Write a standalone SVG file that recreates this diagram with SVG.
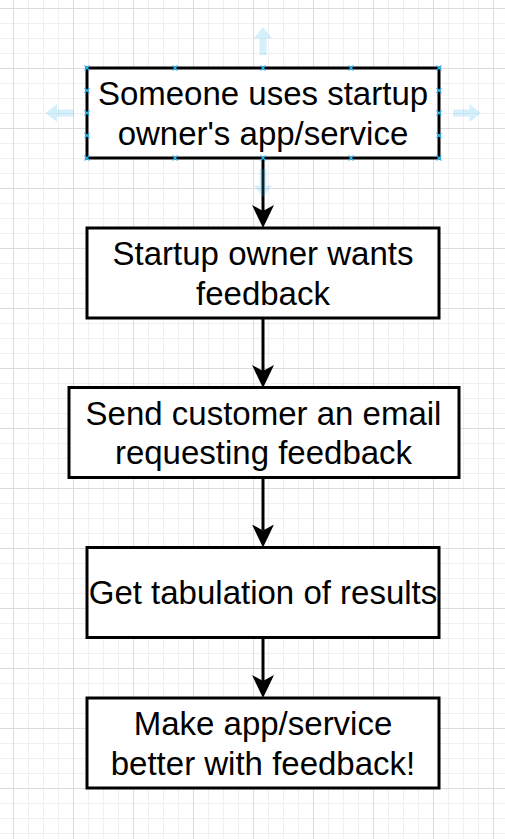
<svg xmlns="http://www.w3.org/2000/svg" width="505" height="839" viewBox="0 0 505 839">
  <defs>
    <pattern id="grid" x="13" y="8" width="60" height="60" patternUnits="userSpaceOnUse">
      <path d="M15.5,0V60M30.5,0V60M45.5,0V60M0,15.5H60M0,30.5H60M0,45.5H60" stroke="#f0f0f0" stroke-width="1" fill="none"/>
      <path d="M0.5,0V60M0,0.5H60" stroke="#dcdcdc" stroke-width="1" fill="none"/>
    </pattern>
    <marker id="arrow" markerUnits="userSpaceOnUse" markerWidth="24" markerHeight="24" refX="6" refY="12" orient="auto" viewBox="0 0 24 24">
      <path d="M23,12 L0,1 L6,12 L0,23 Z" fill="#000"/>
    </marker>
    <path id="hover" d="M0,0 L9,11.5 L3.5,11.5 L3.5,28 L-3.5,28 L-3.5,11.5 L-9,11.5 Z"/>
    <path id="hx" d="M-2.5,-2.5L2.5,2.5M-2.5,2.5L2.5,-2.5"/>
  </defs>
  <style>
    .box { fill: #ffffff; stroke: #000000; stroke-width: 3; }
    .lbl { font-family: "Liberation Sans", Arial, sans-serif; font-size: 33px; fill: #000000; text-anchor: middle; }
    .conn { stroke: #000000; stroke-width: 3; fill: none; marker-end: url(#arrow); }
    .hover { fill: #29b6f2; fill-opacity: 0.2; }
    .handle { stroke: #29b6f2; stroke-width: 1.2; fill: none; }
  </style>
  <rect x="0" y="0" width="505" height="839" fill="#ffffff"/>
  <rect x="0" y="0" width="505" height="839" fill="url(#grid)"/>

  <g id="connectors">
    <path class="conn" d="M263,158 V211"/>
    <path class="conn" d="M263,318 V371"/>
    <path class="conn" d="M263,477.5 V530.5"/>
    <path class="conn" d="M263,637.5 V681"/>
  </g>

  <g id="node1">
    <rect class="box" x="87" y="68" width="352" height="90"/>
    <text class="lbl" x="263" y="105">Someone uses startup</text>
    <text class="lbl" x="263" y="144.5">owner's app/service</text>
  </g>
  <g id="node2">
    <rect class="box" x="87" y="228" width="352" height="90"/>
    <text class="lbl" x="263" y="265">Startup owner wants</text>
    <text class="lbl" x="263" y="304.5">feedback</text>
  </g>
  <g id="node3">
    <rect class="box" x="69" y="387.5" width="390" height="90"/>
    <text class="lbl" x="263.5" y="424.5">Send customer an email</text>
    <text class="lbl" x="263.5" y="464">requesting feedback</text>
  </g>
  <g id="node4">
    <rect class="box" x="87" y="547.5" width="352" height="90"/>
    <text class="lbl" x="263" y="604">Get tabulation of results</text>
  </g>
  <g id="node5">
    <rect class="box" x="87" y="698" width="352" height="90"/>
    <text class="lbl" x="263" y="735">Make app/service</text>
    <text class="lbl" x="263" y="774.5">better with feedback!</text>
  </g>

  <g id="selection">
    <use href="#hover" class="hover" transform="translate(263,27)"/>
    <use href="#hover" class="hover" transform="translate(263,197) rotate(180)"/>
    <use href="#hover" class="hover" transform="translate(481,113) rotate(90)"/>
    <use href="#hover" class="hover" transform="translate(45.5,113) rotate(-90)"/>
    <g class="handle">
      <use href="#hx" transform="translate(87,68)"/>
      <use href="#hx" transform="translate(175,68)"/>
      <use href="#hx" transform="translate(263,68)"/>
      <use href="#hx" transform="translate(351,68)"/>
      <use href="#hx" transform="translate(439,68)"/>
      <use href="#hx" transform="translate(87,158)"/>
      <use href="#hx" transform="translate(175,158)"/>
      <use href="#hx" transform="translate(263,158)"/>
      <use href="#hx" transform="translate(351,158)"/>
      <use href="#hx" transform="translate(439,158)"/>
      <use href="#hx" transform="translate(87,90.5)"/>
      <use href="#hx" transform="translate(87,113)"/>
      <use href="#hx" transform="translate(87,135.5)"/>
      <use href="#hx" transform="translate(439,90.5)"/>
      <use href="#hx" transform="translate(439,113)"/>
      <use href="#hx" transform="translate(439,135.5)"/>
    </g>
  </g>
</svg>
